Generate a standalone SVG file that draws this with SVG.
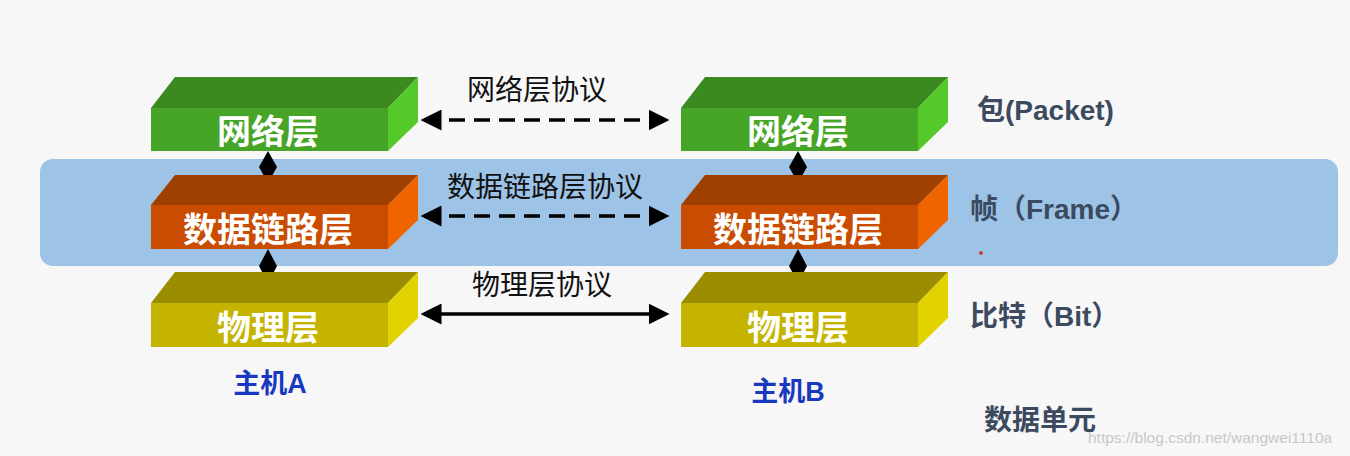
<svg xmlns="http://www.w3.org/2000/svg" width="1350" height="456" viewBox="0 0 1350 456">
<style>
.lbl{font-family:"Noto Sans CJK SC","Liberation Sans",sans-serif;font-weight:bold;font-size:34px;fill:#fff;text-anchor:middle}
.proto{font-family:"Noto Sans CJK SC","Liberation Sans",sans-serif;font-size:28px;fill:#111;text-anchor:middle}
.unit{font-family:"Liberation Sans","Noto Sans CJK SC",sans-serif;font-weight:bold;font-size:28px;fill:#3b4a5f}
.host{font-family:"Liberation Sans","Noto Sans CJK SC",sans-serif;font-weight:bold;font-size:27px;fill:#1838c0;text-anchor:middle}
.ln{stroke:#000;stroke-width:3.5;fill:none}
</style>
<defs>
<marker id="ah" markerWidth="6" markerHeight="6" refX="5" refY="3" orient="auto-start-reverse" markerUnits="strokeWidth"><path d="M0,0 L6,3 L0,6 z" fill="#000"/></marker>
</defs>
<rect width="1350" height="456" fill="#f7f7f8"/>
<rect x="40" y="159" width="1298" height="107" rx="13" fill="#9dc3e6"/>
<g id="connectors">
<line class="ln" x1="424" y1="120" x2="666" y2="120" stroke-dasharray="16,9" marker-start="url(#ah)" marker-end="url(#ah)"/>
<line class="ln" x1="424" y1="216" x2="666" y2="216" stroke-dasharray="16,9" marker-start="url(#ah)" marker-end="url(#ah)"/>
<line class="ln" x1="424" y1="314" x2="666" y2="314" marker-start="url(#ah)" marker-end="url(#ah)"/>
<path d="M268,151 L277,167 L268,183 L259,167 z M268,249 L277,266 L268,283 L259,266 z M798,151 L807,167 L798,183 L789,167 z M798,249 L807,266 L798,283 L789,266 z" fill="#000"/>
</g>
<g id="netA"><path d="M151,108 L175,77 L418,77 L388,108 z" fill="#3a8a1f"/><path d="M388,108 L418,77 L418,122 L388,151 z" fill="#56c92a"/><rect x="151" y="108" width="237" height="43" fill="#46a526"/><text class="lbl" x="268" y="144">网络层</text></g>
<g id="dlA"><path d="M151,205 L175,175 L418,175 L388,205 z" fill="#a04000"/><path d="M388,205 L418,175 L418,220 L388,249 z" fill="#f06400"/><rect x="151" y="205" width="237" height="44" fill="#c94c00"/><text class="lbl" x="268" y="242">数据链路层</text></g>
<g id="phA"><path d="M151,303 L175,272 L418,272 L388,303 z" fill="#9a8e00"/><path d="M388,303 L418,272 L418,318 L388,347 z" fill="#e2d200"/><rect x="151" y="303" width="237" height="44" fill="#c4b400"/><text class="lbl" x="268" y="340">物理层</text></g>
<g id="netB"><path d="M681,108 L705,77 L948,77 L918,108 z" fill="#3a8a1f"/><path d="M918,108 L948,77 L948,122 L918,151 z" fill="#56c92a"/><rect x="681" y="108" width="237" height="43" fill="#46a526"/><text class="lbl" x="798" y="144">网络层</text></g>
<g id="dlB"><path d="M681,205 L705,175 L948,175 L918,205 z" fill="#a04000"/><path d="M918,205 L948,175 L948,220 L918,249 z" fill="#f06400"/><rect x="681" y="205" width="237" height="44" fill="#c94c00"/><text class="lbl" x="798" y="242">数据链路层</text></g>
<g id="phB"><path d="M681,303 L705,272 L948,272 L918,303 z" fill="#9a8e00"/><path d="M918,303 L948,272 L948,318 L918,347 z" fill="#e2d200"/><rect x="681" y="303" width="237" height="44" fill="#c4b400"/><text class="lbl" x="798" y="340">物理层</text></g>
<g id="labels">
<text class="proto" x="537" y="100">网络层协议</text>
<text class="proto" x="545" y="197">数据链路层协议</text>
<text class="proto" x="542" y="295">物理层协议</text>
<text class="unit" x="977" y="120">包(Packet)</text>
<text class="unit" x="970" y="219">帧（Frame）</text>
<text class="unit" x="970" y="326">比特（Bit）</text>
<text class="unit" x="984" y="430">数据单元</text>
<text class="host" x="270" y="393">主机A</text>
<text class="host" x="788" y="401">主机B</text>
<circle cx="981" cy="253" r="1.8" fill="#e02020"/>
<text x="1088" y="443" font-family="Liberation Sans,sans-serif" font-size="15.5" fill="#c8c8c8">https://blog.csdn.net/wangwei1110a</text>
</g>
</svg>
